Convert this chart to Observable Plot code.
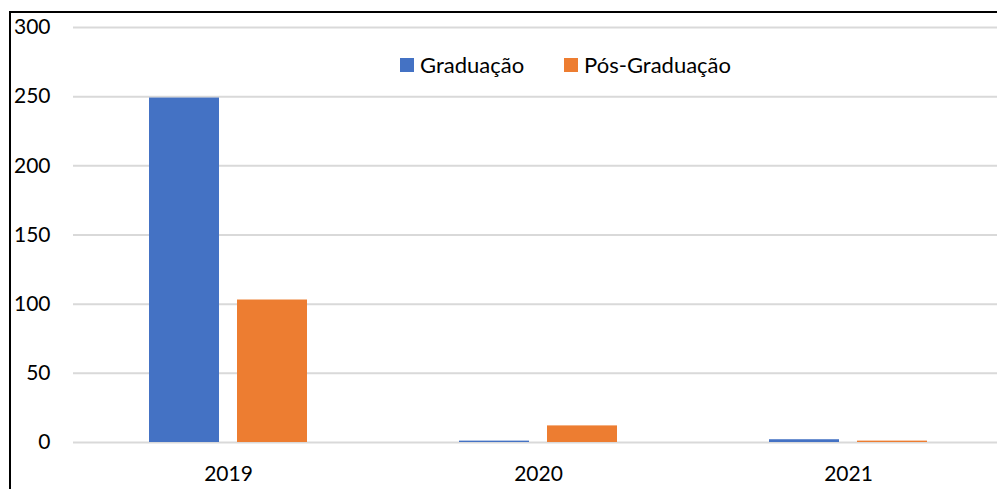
<!DOCTYPE html>
<html>
<head>
<meta charset="utf-8">
<script src="https://cdn.jsdelivr.net/npm/d3@7"></script>
<script src="https://cdn.jsdelivr.net/npm/@observablehq/plot@0.6"></script>
<style>
  html, body { margin: 0; padding: 0; background: #fff; }
  #wrap { position: relative; width: 997px; height: 489px; overflow: hidden; font-family: Lato, "Open Sans", sans-serif; }
  #border { position: absolute; left: 9px; top: 11px; width: 1000px; height: 500px; border-left: 2px solid #000; border-top: 2px solid #000; pointer-events: none; }
  #legend { position: absolute; left: 400px; top: 54px; display: flex; align-items: center; font-size: 22px; line-height: 22px; color: #000; }
  #legend .item { display: flex; align-items: center; }
  #legend .sw { width: 14px; height: 14px; margin-right: 6px; }
</style>
</head>
<body>
<div id="wrap">
  <div id="chart"></div>
  <div id="legend"></div>
  <div id="border"></div>
</div>
<script>
const years = ["2019", "2020", "2021"];
const series = ["Graduação", "Pós-Graduação"];
const graduacao = [249, 1, 2];
const posGraduacao = [103, 12, 1];
const yTicks = [0, 50, 100, 150, 200, 250, 300];
const colors = ["#4472C4", "#ED7D31"];

const data = [];
years.forEach((yr, i) => {
  data.push({year: yr, series: series[0], value: graduacao[i]});
  data.push({year: yr, series: series[1], value: posGraduacao[i]});
});

const chart = Plot.plot({
  width: 997,
  height: 489,
  marginLeft: 73,
  marginRight: -6,
  marginTop: 27,
  marginBottom: 47,
  style: {fontFamily: "Lato, 'Open Sans', sans-serif", fontSize: "21px", background: "transparent", color: "#000"},
  fx: {domain: years, padding: 0, label: null},
  x: {domain: series, paddingInner: 0.2045, paddingOuter: 0.8636, axis: null},
  y: {domain: [0, 300], axis: null},
  color: {domain: series, range: colors},
  marks: [
    Plot.gridY(yTicks, {stroke: "#d9d9d9", strokeOpacity: 1, strokeWidth: 2}),
    Plot.barY(data, {fx: "year", x: "series", y: "value", fill: "series"}),
    Plot.axisY(yTicks, {tickSize: 0, tickPadding: 23, label: null, fontSize: 21}),
    Plot.axisFx({anchor: "bottom", tickSize: 0, tickPadding: 24, label: null, fontSize: 21})
  ]
});
document.getElementById("chart").appendChild(chart);

const legend = document.getElementById("legend");
series.forEach((s, i) => {
  const item = document.createElement("div");
  item.className = "item";
  if (i > 0) item.style.marginLeft = "40px";
  const sw = document.createElement("span");
  sw.className = "sw";
  sw.style.background = colors[i];
  const t = document.createElement("span");
  t.textContent = s;
  item.appendChild(sw);
  item.appendChild(t);
  legend.appendChild(item);
});
</script>
</body>
</html>
